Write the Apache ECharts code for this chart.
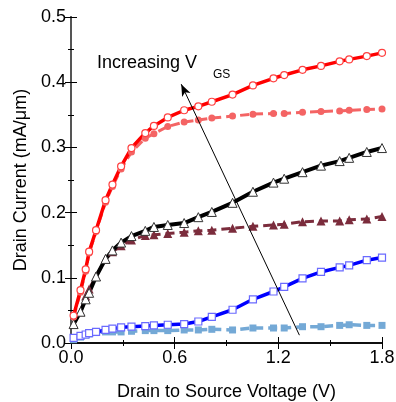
<!DOCTYPE html>
<html>
<head>
<meta charset="utf-8">
<script src="https://cdn.jsdelivr.net/npm/echarts@6/dist/echarts.min.js"></script>
<style>
  html, body { margin: 0; padding: 0; background: #fff; }
  #chart { width: 396px; height: 402px; }
</style>
</head>
<body>
<div id="chart"></div>
<script>
// drain-source voltage (V), shared by all curves
const vds = [0.015, 0.055, 0.085, 0.105, 0.145, 0.2, 0.24, 0.29, 0.35, 0.43, 0.48, 0.56,
  0.655, 0.737, 0.815, 0.935, 1.053, 1.172, 1.234, 1.34, 1.447, 1.555, 1.61, 1.712, 1.8];

// drain current (mA/um)
const redOpen = [0.042, 0.081, 0.113, 0.140, 0.173, 0.219, 0.243, 0.271, 0.299, 0.322, 0.333, 0.346,
  0.357, 0.363, 0.370, 0.381, 0.395, 0.406, 0.411, 0.419, 0.425, 0.432, 0.435, 0.440, 0.445];
const redFilled = [0.040, 0.078, 0.110, 0.138, 0.171, 0.216, 0.240, 0.267, 0.293, 0.314, 0.321, 0.332,
  0.339, 0.342, 0.345, 0.348, 0.351, 0.352, 0.352, 0.354, 0.355, 0.356, 0.357, 0.358, 0.359];
const blackOpen = [0.029, 0.048, 0.067, 0.077, 0.102, 0.129, 0.142, 0.154, 0.164, 0.172, 0.178, 0.181,
  0.184, 0.193, 0.201, 0.215, 0.232, 0.246, 0.252, 0.262, 0.272, 0.279, 0.284, 0.293, 0.299];
const maroonFilled = [0.029, 0.048, 0.072, 0.083, 0.102, 0.129, 0.140, 0.149, 0.158, 0.165, 0.166, 0.168,
  0.170, 0.172, 0.173, 0.176, 0.179, 0.181, 0.182, 0.186, 0.187, 0.187, 0.189, 0.190, 0.194];
const blueOpen = [0.008, 0.011, 0.013, 0.015, 0.017, 0.020, 0.022, 0.024, 0.025, 0.026, 0.027, 0.028,
  0.029, 0.033, 0.040, 0.051, 0.067, 0.079, 0.086, 0.099, 0.109, 0.116, 0.119, 0.127, 0.131];
const blueFilled = [0.005, 0.009, 0.012, 0.014, 0.016, 0.017, 0.017, 0.017, 0.018, 0.019, 0.019, 0.019,
  0.020, 0.020, 0.021, 0.020, 0.023, 0.023, 0.023, 0.025, 0.025, 0.027, 0.028, 0.027, 0.027];

// arrow "increasing VGS": [tail, head] in data units
const arrowFrom = [1.322, 0.012];
const arrowTo = [0.638, 0.397];

const font = "Liberation Sans";

function pts(ys) {
  return vds.map((x, i) => [x, ys[i]]);
}

function curve(ys, c) {
  return {
    type: "line",
    data: pts(ys),
    symbol: c.symbol,
    symbolSize: c.size,
    showSymbol: true,
    lineStyle: { color: c.line, width: c.width, type: c.dash ? [9, 5] : "solid" },
    itemStyle: { color: c.fill, borderColor: c.border, borderWidth: c.bw || 0 },
    z: c.z || 2,
  };
}

const chart = echarts.init(document.getElementById("chart"));

const axisCommon = {
  axisLine: { show: true, lineStyle: { color: "#000", width: 1.5 } },
  axisTick: { show: true, inside: true, length: 6, lineStyle: { color: "#000", width: 1 } },
  minorTick: { show: true, splitNumber: 2, length: 3, lineStyle: { color: "#000", width: 1 } },
  splitLine: { show: false },
};

chart.setOption({
  animation: false,
  backgroundColor: "#fff",
  grid: { left: 71, right: 14, top: 17, bottom: 59, outerBoundsMode: "none" },
  xAxis: [
    Object.assign({}, axisCommon, {
      type: "value", min: 0, max: 1.8, interval: 0.6,
      axisLabel: { color: "#000", fontSize: 18, fontFamily: font, margin: 6,
        formatter: (v) => v.toFixed(1) },
      name: "Drain to Source Voltage (V)",
      nameLocation: "middle", nameGap: 40,
      nameTextStyle: { color: "#000", fontSize: 18, fontFamily: font },
    }),
    Object.assign({}, axisCommon, {
      type: "value", min: 0, max: 1.8, interval: 0.6, position: "top",
      axisLabel: { show: false },
    }),
  ],
  yAxis: [
    Object.assign({}, axisCommon, {
      type: "value", min: 0, max: 0.5, interval: 0.1,
      axisLabel: { color: "#000", fontSize: 18, fontFamily: font, margin: 5,
        formatter: (v) => v.toFixed(1) },
      name: "Drain Current (mA/\u03bcm)",
      nameLocation: "middle", nameGap: 36,
      nameTextStyle: { color: "#000", fontSize: 18, fontFamily: font },
    }),
    Object.assign({}, axisCommon, {
      type: "value", min: 0, max: 0.5, interval: 0.1, position: "right",
      axisLine: { show: true, lineStyle: { color: "#555", width: 2 } },
      axisLabel: { show: false },
    }),
  ],
  graphic: [
    {
      type: "text", left: 97, top: 54,
      style: { text: "Increasing V", font: "18px " + font, fill: "#000" },
    },
    {
      type: "text", left: 213, top: 69,
      style: { text: "GS", font: "12px " + font, fill: "#000" },
    },
  ],
  series: [
    curve(blueFilled, { symbol: "rect", size: 7, line: "#74a9d6", width: 3.5, dash: true, fill: "#74a9d6" }),
    curve(blueOpen, { symbol: "rect", size: 7, line: "#0000ff", width: 3.5, fill: "#fff", border: "#6a6aff", bw: 1.2 }),
    curve(maroonFilled, { symbol: "triangle", size: 9, line: "#7b2c3c", width: 3, dash: true, fill: "#7b2c3c" }),
    curve(blackOpen, { symbol: "triangle", size: 9, line: "#000", width: 4, fill: "#fff", border: "#333", bw: 1 }),
    curve(redFilled, { symbol: "circle", size: 7, line: "#f46464", width: 3, dash: true, fill: "#f46464" }),
    curve(redOpen, { symbol: "circle", size: 7, line: "#ff0000", width: 3.5, fill: "#fff", border: "#ff4040", bw: 1.2 }),
    {
      type: "line",
      data: [],
      z: 5,
      markLine: {
        silent: true,
        symbol: ["none", "arrow"],
        symbolSize: [7, 12],
        label: { show: false },
        lineStyle: { color: "#000", width: 1, type: "solid" },
        data: [[{ coord: arrowFrom }, { coord: arrowTo }]],
      },
    },
  ],
});
</script>
</body>
</html>
